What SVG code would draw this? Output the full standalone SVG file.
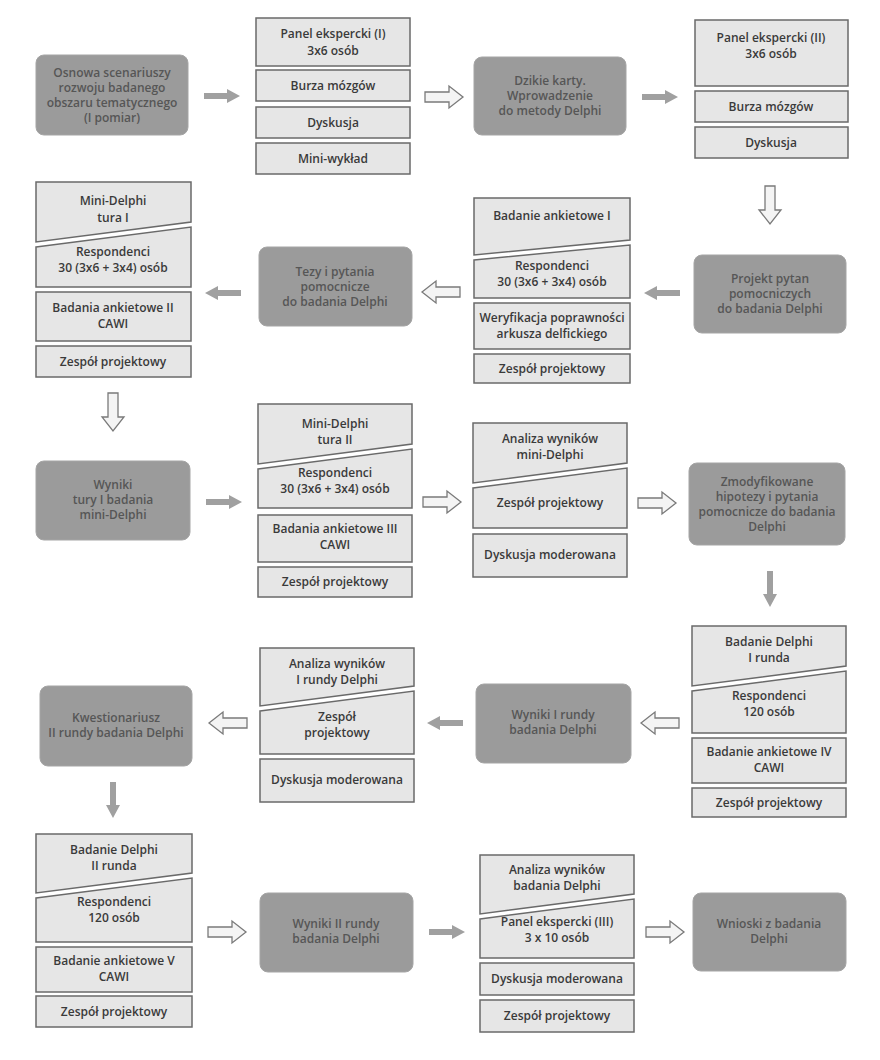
<svg xmlns="http://www.w3.org/2000/svg" xmlns:xlink="http://www.w3.org/1999/xlink" width="880" height="1060" viewBox="0 0 880 1060">
<style>
.b{fill:#e6e6e6;stroke:#6a6a6a;stroke-width:1.5}
.d{fill:#9b9b9b;stroke:#a5a5a5;stroke-width:1}
text{font-family:"Open Sans","Liberation Sans",sans-serif;font-size:12px;font-weight:600;text-anchor:middle;fill:#3a3a3a}
.d+text,.dt{fill:#565656}
</style>
<defs>
<path id="ga" d="M-18,-3 H5 V-7 L18,0 L5,7 V3 H-18 Z" fill="#a0a0a0"/>
<path id="ha" d="M-19,-5 H5 V-11 L19,0 L5,11 V5 H-19 Z" fill="#f4f4f4" stroke="#7a7a7a" stroke-width="1.3"/>
</defs>
<rect width="880" height="1060" fill="#fff"/>
<g id="connectors">
<use xlink:href="#ga" transform="translate(222,96)"/>
<use xlink:href="#ha" transform="translate(444,97)"/>
<use xlink:href="#ga" transform="translate(660,97)"/>
<use xlink:href="#ha" transform="translate(770,205) rotate(90)"/>
<use xlink:href="#ga" transform="translate(662,293) rotate(180)"/>
<use xlink:href="#ha" transform="translate(441,292) rotate(180)"/>
<use xlink:href="#ga" transform="translate(223,293) rotate(180)"/>
<use xlink:href="#ha" transform="translate(113,412) rotate(90)"/>
<use xlink:href="#ga" transform="translate(224,502)"/>
<use xlink:href="#ha" transform="translate(442,502)"/>
<use xlink:href="#ha" transform="translate(657,503)"/>
<use xlink:href="#ga" transform="translate(770,589) rotate(90)"/>
<use xlink:href="#ha" transform="translate(660,723) rotate(180)"/>
<use xlink:href="#ga" transform="translate(445,723) rotate(180)"/>
<use xlink:href="#ha" transform="translate(228,723) rotate(180)"/>
<use xlink:href="#ga" transform="translate(113,800) rotate(90)"/>
<use xlink:href="#ha" transform="translate(227,932)"/>
<use xlink:href="#ga" transform="translate(447,932)"/>
<use xlink:href="#ha" transform="translate(665,932)"/>
</g>

<g id="n-osnowa"><rect class="d" x="36" y="55" width="152" height="80" rx="8"/><text class="dt" x="112" y="77">Osnowa scenariuszy</text><text class="dt" x="112" y="92">rozwoju badanego</text><text class="dt" x="112" y="107">obszaru tematycznego</text><text class="dt" x="112" y="122">(I pomiar)</text></g>
<g id="s-panel1">
<rect class="b" x="256" y="18" width="154" height="48"/><text x="333" y="38">Panel ekspercki (I)</text><text x="333" y="55">3x6 osób</text>
<rect class="b" x="256" y="70" width="154" height="31"/><text x="333" y="90">Burza mózgów</text>
<rect class="b" x="256" y="107" width="154" height="31"/><text x="333" y="127">Dyskusja</text>
<rect class="b" x="256" y="143" width="154" height="31"/><text x="333" y="163">Mini-wykład</text>
</g>
<g id="n-dzikie"><rect class="d" x="474" y="57" width="152" height="78" rx="8"/><text class="dt" x="550" y="85">Dzikie karty.</text><text class="dt" x="550" y="100">Wprowadzenie</text><text class="dt" x="550" y="115">do metody Delphi</text></g>
<g id="s-panel2">
<rect class="b" x="695" y="20" width="153" height="66"/><text x="771" y="42">Panel ekspercki (II)</text><text x="771" y="58">3x6 osób</text>
<rect class="b" x="695" y="91" width="153" height="31"/><text x="771" y="111">Burza mózgów</text>
<rect class="b" x="695" y="127" width="153" height="31"/><text x="771" y="147">Dyskusja</text>
</g>

<g id="n-projekt"><rect class="d" x="694" y="255" width="152" height="78" rx="8"/><text class="dt" x="770" y="283">Projekt pytan</text><text class="dt" x="770" y="298">pomocniczych</text><text class="dt" x="770" y="313">do badania Delphi</text></g>
<g id="s-ankieta1">
<polygon class="b" points="474,198 630,198 630,240 474,255"/><text x="552" y="220">Badanie ankietowe I</text>
<polygon class="b" points="474,260 630,245 630,298 474,298"/><text x="552" y="270">Respondenci</text><text x="552" y="286">30 (3x6 + 3x4) osób</text>
<rect class="b" x="474" y="303" width="156" height="46"/><text x="552" y="322">Weryfikacja poprawności</text><text x="552" y="338">arkusza delfickiego</text>
<rect class="b" x="474" y="354" width="156" height="29"/><text x="552" y="373">Zespół projektowy</text>
</g>
<g id="n-tezy"><rect class="d" x="259" y="247" width="153" height="79" rx="8"/><text class="dt" x="335" y="276">Tezy i pytania</text><text class="dt" x="335" y="291">pomocnicze</text><text class="dt" x="335" y="306">do badania Delphi</text></g>
<g id="s-mini1">
<polygon class="b" points="36,182 191,182 191,222 36,242"/><text x="113" y="205">Mini-Delphi</text><text x="113" y="222">tura I</text>
<polygon class="b" points="36,247 191,227 191,287 36,287"/><text x="113" y="256">Respondenci</text><text x="113" y="272">30 (3x6 + 3x4) osób</text>
<rect class="b" x="36" y="292" width="155" height="49"/><text x="113" y="312">Badania ankietowe II</text><text x="113" y="328">CAWI</text>
<rect class="b" x="36" y="346" width="155" height="31"/><text x="113" y="366">Zespół projektowy</text>
</g>

<g id="n-wyniki-mini"><rect class="d" x="36" y="461" width="154" height="79" rx="8"/><text class="dt" x="113" y="489">Wyniki</text><text class="dt" x="113" y="504">tury I badania</text><text class="dt" x="113" y="519">mini-Delphi</text></g>
<g id="s-mini2">
<polygon class="b" points="258,404 412,404 412,444 258,464"/><text x="335" y="428">Mini-Delphi</text><text x="335" y="444">tura II</text>
<polygon class="b" points="258,469 412,449 412,508 258,508"/><text x="335" y="477">Respondenci</text><text x="335" y="493">30 (3x6 + 3x4) osób</text>
<rect class="b" x="258" y="515" width="154" height="47"/><text x="335" y="533">Badania ankietowe III</text><text x="335" y="549">CAWI</text>
<rect class="b" x="258" y="567" width="154" height="30"/><text x="335" y="586">Zespół projektowy</text>
</g>
<g id="s-analiza-mini">
<polygon class="b" points="473,423 627,423 627,463 473,483"/><text x="550" y="443">Analiza wyników</text><text x="550" y="459">mini-Delphi</text>
<polygon class="b" points="473,488 627,468 627,528 473,528"/><text x="550" y="507">Zespół projektowy</text>
<rect class="b" x="473" y="534" width="154" height="43"/><text x="550" y="559">Dyskusja moderowana</text>
</g>
<g id="n-zmodyfikowane"><rect class="d" x="689" y="463" width="156" height="82" rx="8"/><text class="dt" x="767" y="486">Zmodyfikowane</text><text class="dt" x="767" y="501">hipotezy i pytania</text><text class="dt" x="767" y="516">pomocnicze do badania</text><text class="dt" x="767" y="531">Delphi</text></g>

<g id="s-delphi1">
<polygon class="b" points="692,626 846,626 846,666 692,686"/><text x="769" y="646">Badanie Delphi</text><text x="769" y="662">I runda</text>
<polygon class="b" points="692,691 846,671 846,733 692,733"/><text x="769" y="700">Respondenci</text><text x="769" y="716">120 osób</text>
<rect class="b" x="692" y="738" width="154" height="45"/><text x="769" y="756">Badanie ankietowe IV</text><text x="769" y="772">CAWI</text>
<rect class="b" x="692" y="788" width="154" height="29"/><text x="769" y="807">Zespół projektowy</text>
</g>
<g id="n-wyniki1"><rect class="d" x="476" y="684" width="155" height="79" rx="8"/><text class="dt" x="553" y="719">Wyniki I rundy</text><text class="dt" x="553" y="734">badania Delphi</text></g>
<g id="s-analiza1">
<polygon class="b" points="260,648 414,648 414,686 260,706"/><text x="337" y="668">Analiza wyników</text><text x="337" y="684">I rundy Delphi</text>
<polygon class="b" points="260,711 414,691 414,754 260,754"/><text x="337" y="721">Zespół</text><text x="337" y="737">projektowy</text>
<rect class="b" x="260" y="759" width="154" height="43"/><text x="337" y="784">Dyskusja moderowana</text>
</g>
<g id="n-kwestionariusz"><rect class="d" x="40" y="686" width="152" height="80" rx="8"/><text class="dt" x="116" y="722">Kwestionariusz</text><text class="dt" x="116" y="737">II rundy badania Delphi</text></g>

<g id="s-delphi2">
<polygon class="b" points="36,834 192,834 192,873 36,893"/><text x="114" y="854">Badanie Delphi</text><text x="114" y="870">II runda</text>
<polygon class="b" points="36,898 192,878 192,942 36,942"/><text x="114" y="906">Respondenci</text><text x="114" y="922">120 osób</text>
<rect class="b" x="36" y="947" width="156" height="45"/><text x="114" y="965">Badanie ankietowe V</text><text x="114" y="981">CAWI</text>
<rect class="b" x="36" y="996" width="156" height="31"/><text x="114" y="1016">Zespół projektowy</text>
</g>
<g id="n-wyniki2"><rect class="d" x="260" y="893" width="153" height="79" rx="8"/><text class="dt" x="336" y="928">Wyniki II rundy</text><text class="dt" x="336" y="943">badania Delphi</text></g>
<g id="s-analiza2">
<polygon class="b" points="480,855 634,855 634,894 480,914"/><text x="557" y="874">Analiza wyników</text><text x="557" y="890">badania Delphi</text>
<polygon class="b" points="480,919 634,899 634,958 480,958"/><text x="557" y="926">Panel ekspercki (III)</text><text x="557" y="942">3 x 10 osób</text>
<rect class="b" x="480" y="963" width="154" height="32"/><text x="557" y="983">Dyskusja moderowana</text>
<rect class="b" x="480" y="1000" width="154" height="32"/><text x="557" y="1020">Zespół projektowy</text>
</g>
<g id="n-wnioski"><rect class="d" x="693" y="893" width="153" height="78" rx="8"/><text class="dt" x="769" y="928">Wnioski z badania</text><text class="dt" x="769" y="943">Delphi</text></g>
</svg>
